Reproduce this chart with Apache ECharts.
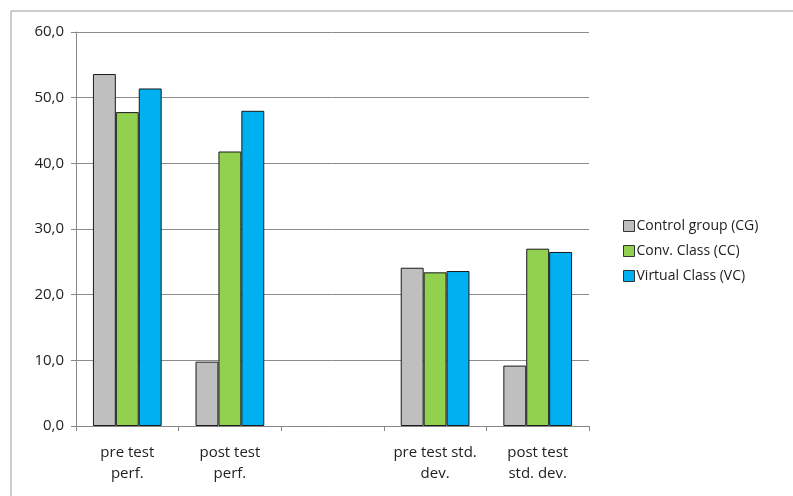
<!DOCTYPE html>
<html>
<head>
<meta charset="utf-8">
<script src="https://cdn.jsdelivr.net/npm/echarts@6/dist/echarts.min.js"></script>
<style>
  html, body { margin: 0; padding: 0; background: #fff; }
  #chart { width: 793px; height: 496px; }
</style>
</head>
<body>
<div id="chart"></div>
<script>
// Category labels (the third slot is an empty spacer group)
const categories = ['pre test\nperf.', 'post test\nperf.', '', 'pre test std.\ndev.', 'post test\nstd. dev.'];
const seriesNames = ['Control group (CG)', 'Conv. Class (CC)', 'Virtual Class (VC)'];
const controlGroup = [53.6, 9.8, null, 24.1, 9.2];
const convClass = [47.8, 41.8, null, 23.4, 27.0];
const virtualClass = [51.4, 48.0, null, 23.6, 26.5];
const yTicks = { min: 0, max: 60, interval: 10 };

const colors = ['#BFBFBF', '#92D050', '#00B0F0'];
const font = '"Open Sans", "Noto Sans", sans-serif';

const chart = echarts.init(document.getElementById('chart'), null, { renderer: 'canvas' });

function bar(name, data, color) {
  return {
    name: name,
    type: 'bar',
    data: data,
    barGap: '0%',
    barCategoryGap: '33%',
    itemStyle: { color: color, borderColor: '#1a1a1a', borderWidth: 1 }
  };
}

chart.setOption({
  animation: false,
  backgroundColor: '#fff',
  textStyle: { fontFamily: font },
  graphic: [{
    type: 'rect',
    shape: { x: 11, y: 11, width: 790, height: 500 },
    style: { fill: 'none', stroke: '#9a9a9a', lineWidth: 1 },
    silent: true
  }],
  grid: { left: 76, top: 32, width: 513, height: 394, containLabel: false },
  legend: {
    orient: 'vertical',
    left: 618,
    top: 214,
    itemWidth: 11,
    itemHeight: 11,
    itemGap: 11,
    icon: 'rect',
    data: seriesNames,
    itemStyle: { borderColor: '#333', borderWidth: 1 },
    textStyle: { fontFamily: font, fontSize: 14, color: '#222', padding: [0, 0, 0, -3] }
  },
  xAxis: {
    type: 'category',
    data: categories,
    boundaryGap: true,
    axisLine: { lineStyle: { color: '#888', width: 1 } },
    axisTick: { show: true, length: 5, lineStyle: { color: '#888' } },
    axisLabel: {
      interval: 0,
      fontFamily: font,
      fontSize: 15,
      color: '#222',
      lineHeight: 21,
      margin: 16
    },
    splitLine: { show: false }
  },
  yAxis: {
    type: 'value',
    min: yTicks.min,
    max: yTicks.max,
    interval: yTicks.interval,
    axisLine: { show: true, lineStyle: { color: '#888', width: 1 } },
    axisTick: { show: true, length: 5, inside: false, lineStyle: { color: '#888' } },
    axisLabel: {
      fontFamily: font,
      fontSize: 15,
      color: '#222',
      margin: 12,
      formatter: v => v.toFixed(1).replace('.', ',')
    },
    splitLine: { show: true, lineStyle: { color: '#8c8c8c', width: 1 } }
  },
  series: [
    bar(seriesNames[0], controlGroup, colors[0]),
    bar(seriesNames[1], convClass, colors[1]),
    bar(seriesNames[2], virtualClass, colors[2])
  ]
});
</script>
</body>
</html>
